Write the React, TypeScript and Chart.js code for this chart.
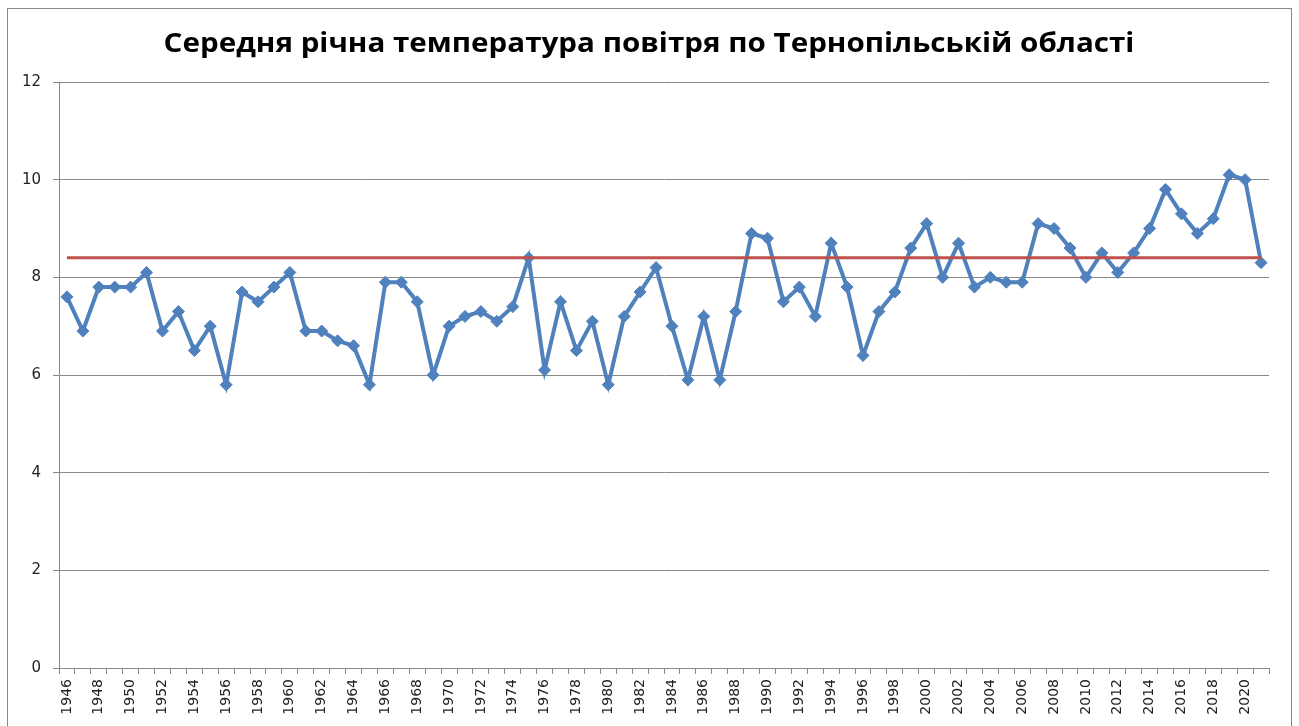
import React, { useEffect, useRef } from "react";
import { Chart, registerables } from "chart.js";

Chart.register(...registerables);

const TITLE = "Середня річна температура повітря по Тернопільській області";

const years: string[] = [
  "1946", "1947", "1948", "1949", "1950", "1951", "1952", "1953", "1954", "1955",
  "1956", "1957", "1958", "1959", "1960", "1961", "1962", "1963", "1964", "1965",
  "1966", "1967", "1968", "1969", "1970", "1971", "1972", "1973", "1974", "1975",
  "1976", "1977", "1978", "1979", "1980", "1981", "1982", "1983", "1984", "1985",
  "1986", "1987", "1988", "1989", "1990", "1991", "1992", "1993", "1994", "1995",
  "1996", "1997", "1998", "1999", "2000", "2001", "2002", "2003", "2004", "2005",
  "2006", "2007", "2008", "2009", "2010", "2011", "2012", "2013", "2014", "2015",
  "2016", "2017", "2018", "2019", "2020", "2021",
];

const temperatures: number[] = [
  7.6, 6.9, 7.8, 7.8, 7.8, 8.1, 6.9, 7.3, 6.5, 7.0,
  5.8, 7.7, 7.5, 7.8, 8.1, 6.9, 6.9, 6.7, 6.6, 5.8,
  7.9, 7.9, 7.5, 6.0, 7.0, 7.2, 7.3, 7.1, 7.4, 8.4,
  6.1, 7.5, 6.5, 7.1, 5.8, 7.2, 7.7, 8.2, 7.0, 5.9,
  7.2, 5.9, 7.3, 8.9, 8.8, 7.5, 7.8, 7.2, 8.7, 7.8,
  6.4, 7.3, 7.7, 8.6, 9.1, 8.0, 8.7, 7.8, 8.0, 7.9,
  7.9, 9.1, 9.0, 8.6, 8.0, 8.5, 8.1, 8.5, 9.0, 9.8,
  9.3, 8.9, 9.2, 10.1, 10.0, 8.3,
];

const NORM_VALUE = 8.4;
const normLine: number[] = years.map(() => NORM_VALUE);

const Y_MIN = 0;
const Y_MAX = 12;
const Y_STEP = 2;

// Title drawn as real canvas text, slightly stretched horizontally like the original.
const titlePlugin = {
  id: "stretchedTitle",
  afterDraw(chart: any) {
    const ctx = chart.ctx as CanvasRenderingContext2D;
    ctx.save();
    ctx.font = "bold 27px 'Open Sans'";
    ctx.fillStyle = "#000";
    ctx.textAlign = "center";
    ctx.textBaseline = "alphabetic";
    const cx = 649;
    const sx = 1.096;
    ctx.translate(cx, 52);
    ctx.scale(sx, 1);
    ctx.fillText(TITLE, 0, 0);
    ctx.restore();
  },
};

export default function App() {
  const canvasRef = useRef<HTMLCanvasElement | null>(null);

  useEffect(() => {
    const canvas = canvasRef.current;
    if (!canvas) return;
    const chart = new Chart(canvas, {
      type: "line",
      data: {
        labels: years,
        datasets: [
          {
            label: "Норма",
            data: normLine,
            borderColor: "#C0504D",
            borderWidth: 3,
            pointRadius: 0,
            order: 0,
          },
          {
            label: "Температура",
            data: temperatures,
            borderColor: "#4F81BD",
            backgroundColor: "#4F81BD",
            borderWidth: 4,
            pointStyle: "rectRot",
            pointRadius: 6,
            pointBorderWidth: 1,
            pointBorderColor: "#4F81BD",
            pointBackgroundColor: "#4F81BD",
            tension: 0,
            order: 1,
          },
        ],
      },
      options: {
        responsive: false,
        animation: false,
        layout: { padding: { left: 0, right: 30, top: 82, bottom: 0 } },
        plugins: {
          legend: { display: false },
          tooltip: { enabled: false },
          title: { display: false },
        },
        scales: {
          x: {
            type: "category",
            offset: true,
            grid: {
              offset: true,
              drawOnChartArea: false,
              drawTicks: true,
              tickLength: 6,
              color: "#888",
            },
            border: { display: true, color: "#888", width: 1 },
            ticks: {
              autoSkip: false,
              maxRotation: 90,
              minRotation: 90,
              padding: 5,
              color: "#222",
              font: { family: "'DejaVu Sans'", size: 14 },
              callback: (_v: any, i: number) => (i % 2 === 0 ? years[i] : ""),
            },
            afterFit: (scale: any) => {
              scale.height = 58;
            },
          },
          y: {
            min: Y_MIN,
            max: Y_MAX,
            grid: {
              color: "#888",
              lineWidth: 1,
              drawTicks: true,
              tickLength: 6,
            },
            border: { display: true, color: "#888", width: 1 },
            ticks: {
              stepSize: Y_STEP,
              padding: 12,
              color: "#222",
              font: { family: "'DejaVu Sans'", size: 15 },
            },
            afterFit: (scale: any) => {
              scale.width = 59;
            },
          },
        },
      },
      plugins: [titlePlugin],
    });
    return () => chart.destroy();
  }, []);

  return (
    <div
      style={{
        position: "fixed",
        left: 0,
        top: 0,
        width: 1299,
        height: 726,
        overflow: "hidden",
        background: "#fff",
      }}
    >
      <canvas ref={canvasRef} width={1299} height={726} style={{ display: "block" }} />
      <div
        style={{
          position: "absolute",
          left: 7,
          top: 8,
          width: 1285,
          height: 800,
          boxSizing: "border-box",
          border: "1px solid #888",
          pointerEvents: "none",
        }}
      />
    </div>
  );
}
